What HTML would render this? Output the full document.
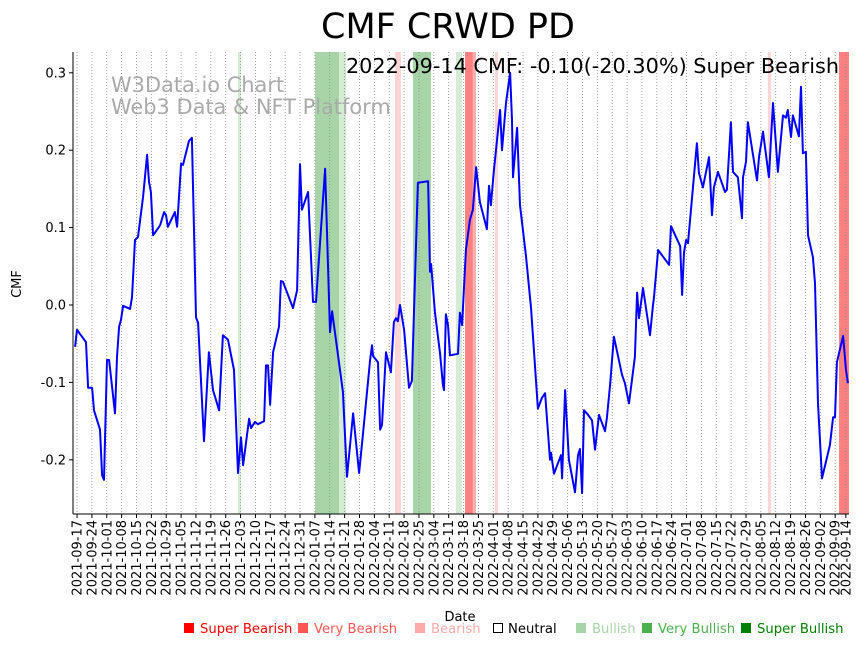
<!DOCTYPE html>
<html><head><meta charset="utf-8"><style>
body{margin:0;background:#fff;}
svg{display:block;font-family:"DejaVu Sans","Liberation Sans",sans-serif;}
</style></head><body>
<svg id="chart" width="867" height="646" xmlns="http://www.w3.org/2000/svg">
<text x="448" y="38" font-size="35" text-anchor="middle">CMF CRWD PD</text>
<g id="bands"></g>
<g id="grid"></g>
<text x="111" y="92" font-size="20.9" fill="#aaa">W3Data.io Chart</text>
<text x="111" y="114" font-size="20.9" fill="#aaa">Web3 Data &amp; NFT Platform</text>
<g id="line"></g>
<text x="839" y="73" font-size="20.8" text-anchor="end">2022-09-14 CMF: -0.10(-20.30%) Super Bearish</text>
<g id="axes"></g>
<text x="460" y="621" font-size="13" text-anchor="middle">Date</text>
<text transform="translate(21,284) rotate(-90)" font-size="13" text-anchor="middle">CMF</text>
<g font-size="13.2">
<g><rect x="184" y="623" width="10" height="10" fill="#ff0000"/><text x="200" y="633" fill="#ff0000">Super Bearish</text></g>
<g><rect x="298" y="623" width="10" height="10" fill="#ff5555"/><text x="314" y="633" fill="#ff5555">Very Bearish</text></g>
<g><rect x="415" y="623" width="10" height="10" fill="#ffaaaa"/><text x="431" y="633" fill="#ffaaaa">Bearish</text></g>
<g><rect x="493.5" y="623.5" width="9" height="9" fill="none" stroke="#000"/><text x="508" y="633" fill="#000">Neutral</text></g>
<g><rect x="576" y="623" width="10" height="10" fill="#a8d5a8"/><text x="592" y="633" fill="#a8d5a8">Bullish</text></g>
<g><rect x="642" y="623" width="10" height="10" fill="#4caf50"/><text x="658" y="633" fill="#4caf50">Very Bullish</text></g>
<g><rect x="741" y="623" width="10" height="10" fill="#008000"/><text x="757" y="633" fill="#008000">Super Bullish</text></g>
</g>
</svg>
<script>
const days=[-0.9,0,4.2,5.2,7.1,8,10.8,11.8,12.7,14.1,15.1,17.9,18.8,19.8,20.7,21.7,25,25.9,27.3,28.7,31.1,33,33.9,34.8,35.8,39.1,41,41.9,42.8,46.1,47.1,49,49.9,52.7,54.1,56,57,59.8,62.1,64,66.9,68.7,71.1,73.9,75.8,77.2,78.2,81,81.9,83.8,85.2,88.1,89,89.9,90.9,92.3,95.1,96,97,101.7,103.6,105,105.9,108.8,111.1,112.5,116.8,119.1,120.1,125.2,127.1,130,132.8,134.7,138,138.9,139.4,141.7,142.7,143.6,145.5,147.8,149.2,150.2,151.1,152.1,154,156.3,157.7,160.5,165.3,166.2,166.7,168.5,170.9,172.3,172.8,173.7,174.7,175.6,179.4,180.3,181.3,183.1,185,186.4,187.9,189.7,193,194,194.9,196.3,197.3,199.2,200.1,202,203.9,204.8,205.3,207.2,208.6,211.4,213.8,217,218.9,220.4,222.7,223.2,224.6,227.9,228.4,229.8,231.6,234.5,235.9,236.8,237.8,238.7,240.1,242.5,243.9,245.8,246.7,248.6,249.5,251,252.8,256.6,258,259.9,262.7,263.7,264.6,266.5,269.8,271.2,271.7,273.6,278.8,279.7,284,284.9,285.8,286.8,287.7,291.9,292.8,294.7,297.6,299,299.9,301.8,305.1,306,307.9,308.9,311.2,313.1,313.6,315,315.9,320.2,321.1,323,325.8,327.7,330,332.4,333.8,334.7,336.2,337.1,339.9,340.9,341.8,343.2,344.2,346.5,347.5,348.9,350.8,354.5,356,356.9,357.8,360.7,362.1,363];
const cmf=[-0.054,-0.032,-0.048,-0.107,-0.107,-0.136,-0.161,-0.22,-0.226,-0.071,-0.071,-0.14,-0.067,-0.028,-0.019,-0.001,-0.005,0.01,0.084,0.088,0.14,0.194,0.159,0.146,0.09,0.103,0.12,0.116,0.101,0.12,0.101,0.183,0.181,0.212,0.216,-0.016,-0.023,-0.176,-0.061,-0.11,-0.136,-0.039,-0.045,-0.084,-0.217,-0.171,-0.207,-0.147,-0.159,-0.151,-0.154,-0.15,-0.078,-0.078,-0.129,-0.061,-0.028,0.031,0.03,-0.004,0.019,0.182,0.123,0.146,0.004,0.004,0.176,-0.035,-0.008,-0.112,-0.222,-0.14,-0.217,-0.165,-0.071,-0.052,-0.066,-0.074,-0.161,-0.155,-0.061,-0.087,-0.022,-0.017,-0.021,0,-0.032,-0.107,-0.098,0.158,0.16,0.043,0.053,-0.009,-0.062,-0.103,-0.11,-0.012,-0.026,-0.065,-0.063,-0.01,-0.026,0.071,0.11,0.123,0.178,0.133,0.098,0.154,0.129,0.174,0.2,0.252,0.2,0.261,0.3,0.239,0.165,0.229,0.129,0.063,-0.005,-0.134,-0.12,-0.114,-0.2,-0.191,-0.218,-0.194,-0.224,-0.11,-0.2,-0.242,-0.194,-0.186,-0.243,-0.136,-0.14,-0.149,-0.187,-0.142,-0.149,-0.163,-0.146,-0.103,-0.041,-0.09,-0.101,-0.127,-0.067,0.016,-0.017,0.022,-0.039,0,0.01,0.071,0.052,0.102,0.076,0.013,0.068,0.084,0.08,0.209,0.171,0.152,0.191,0.116,0.152,0.172,0.146,0.149,0.236,0.172,0.165,0.112,0.165,0.185,0.236,0.161,0.191,0.224,0.165,0.261,0.172,0.245,0.242,0.252,0.217,0.245,0.218,0.282,0.196,0.198,0.09,0.062,0.028,-0.127,-0.224,-0.181,-0.145,-0.145,-0.074,-0.04,-0.084,-0.101];
const bandStart=[75.8,112.1,123.4,149.7,158.2,178.4,182.7,186.4,196.8,325.3,358.8];
const bandEnd=[77.2,123.4,126.7,152.5,166.7,181.3,186.4,187.9,198.2,326.7,363.5];
const bandType=["bullish","very-bullish","bullish","bearish","very-bullish","bullish","super-bearish","very-bearish","bearish","bearish","super-bearish"];
const yTicks=[-0.2,-0.1,0,0.1,0.2,0.3];
const xTickLabels=["2021-09-17","2021-09-24","2021-10-01","2021-10-08","2021-10-15","2021-10-22","2021-10-29","2021-11-05","2021-11-12","2021-11-19","2021-11-26","2021-12-03","2021-12-10","2021-12-17","2021-12-24","2021-12-31","2022-01-07","2022-01-14","2022-01-21","2022-01-28","2022-02-04","2022-02-11","2022-02-18","2022-02-25","2022-03-04","2022-03-11","2022-03-18","2022-03-25","2022-04-01","2022-04-08","2022-04-15","2022-04-22","2022-04-29","2022-05-06","2022-05-13","2022-05-20","2022-05-27","2022-06-03","2022-06-10","2022-06-17","2022-06-24","2022-07-01","2022-07-08","2022-07-15","2022-07-22","2022-07-29","2022-08-05","2022-08-12","2022-08-19","2022-08-26","2022-09-02","2022-09-09","2022-09-14"];
const NS="http://www.w3.org/2000/svg";
const L=73,R=849,T=52,B=514,D0=-1.9,D1=363.5;
const x=d=>L+(d-D0)/(D1-D0)*(R-L);
const y=v=>305-v*774;
const bandColor={"bullish":"#d4ebd4","very-bullish":"#a8d5a8","bearish":"#ffd4d4","very-bearish":"#ffb0b0","super-bearish":"#ff8080"};
function mk(tag,attrs,parent){const e=document.createElementNS(NS,tag);for(const k in attrs)e.setAttribute(k,attrs[k]);parent.appendChild(e);return e;}
const bands=document.getElementById('bands');
bandStart.forEach((s,i)=>{
 const r=mk('rect',{x:x(s),y:T,width:x(bandEnd[i])-x(s),height:B-T,fill:bandColor[bandType[i]]},bands);
 
 
});
const grid=document.getElementById('grid'),axes=document.getElementById('axes');
function dayOf(lbl){return Math.round((Date.parse(lbl)-Date.parse(xTickLabels[0]))/86400000);}
xTickLabels.forEach(lbl=>{
 const xp=x(dayOf(lbl));
 const g=mk('line',{x1:xp,x2:xp,y1:T,y2:B,stroke:'#888','stroke-width':0.8,'stroke-dasharray':'1,2'},grid);
 
 
 mk('line',{x1:xp,x2:xp,y1:B,y2:B+4,stroke:'#000'},axes);
 const t=mk('text',{transform:`translate(${xp+4.5},${B+6}) rotate(-90)`,'font-size':13,'text-anchor':'end'},axes);
 t.textContent=lbl;
 
 
});
yTicks.forEach(v=>{
 const yp=y(v);
 mk('line',{x1:L-4,x2:L,y1:yp,y2:yp,stroke:'#000'},axes);
 const t=mk('text',{x:L-7,y:yp+4.5,'font-size':13,'text-anchor':'end'},axes);
 t.textContent=v.toFixed(1);
 
 
});
mk('line',{x1:L,x2:L,y1:T,y2:B,stroke:'#000'},axes);
mk('line',{x1:L,x2:R,y1:B,y2:B,stroke:'#000'},axes);
const pts=days.map((d,i)=>x(d).toFixed(1)+','+y(cmf[i]).toFixed(1)).join(' ');
const pl=mk('polyline',{points:pts,fill:'none',stroke:'#0000ff','stroke-width':2,'stroke-linejoin':'round'},document.getElementById('line'));


</script>
</body></html>
